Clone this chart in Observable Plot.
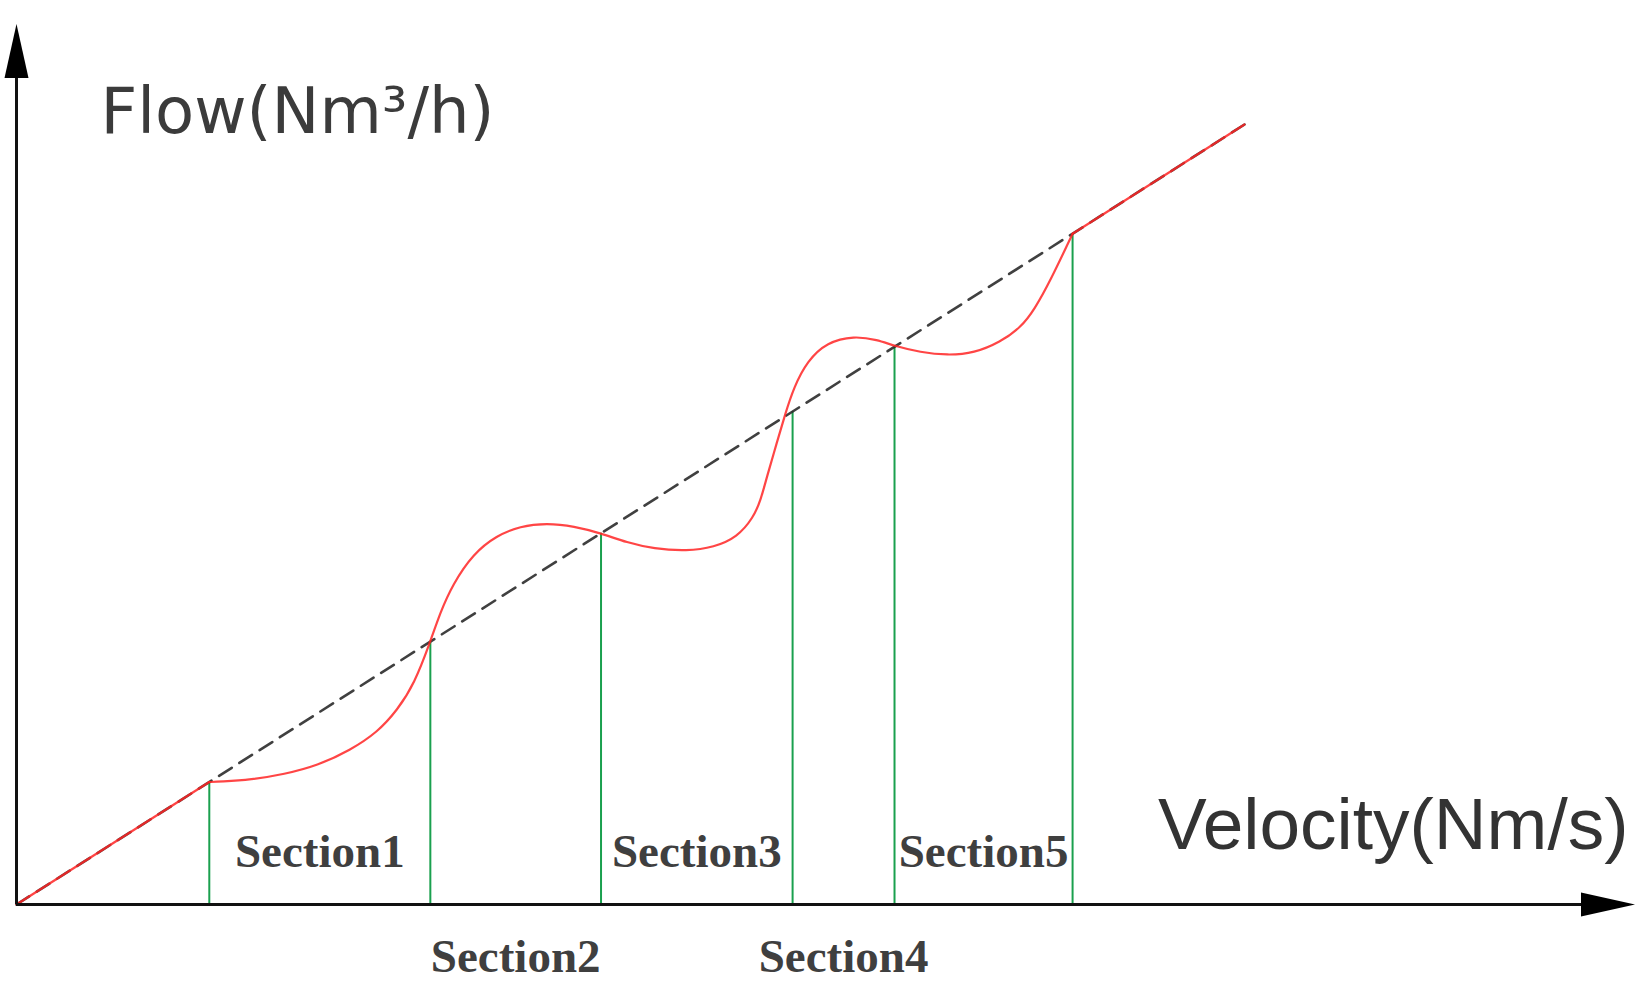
<!DOCTYPE html>
<html>
<head>
<meta charset="utf-8">
<script src="https://cdn.jsdelivr.net/npm/d3@7"></script>
<script src="https://cdn.jsdelivr.net/npm/@observablehq/plot@0.6"></script>
<style>
  html, body { margin: 0; padding: 0; background: #ffffff; }
  #chart { width: 1650px; height: 981px; }
</style>
</head>
<body>
<div id="chart"></div>
<script>
// ---- data ----
// Actual flow curve (red): velocity / flow pairs, grouped in parts
const velocity = [0, 15.7,
  15.7, 16.6, 19.1, 21.8, 24.5, 27.2, 29.4, 31.0, 32.4, 33.7, 34.5, 35.5, 37.2, 39.1, 41.0, 43.2,
  45.4, 47.6, 49.7, 51.9, 54.6, 56.8, 58.7, 60.0, 60.6, 61.1, 61.9, 62.6, 63.3, 64.4, 66.0, 68.2,
  70.1, 71.5, 73.6, 75.8, 78.0, 80.1, 81.8, 82.9, 84.2, 86.0,
  86.0, 100];
const flow = [0, 15.7,
  15.7, 15.75, 16.0, 16.7, 17.8, 19.8, 22.1, 24.9, 28.3, 33.7, 37.4, 41.0, 45.0, 47.3, 48.5, 48.9,
  48.5, 47.6, 46.4, 45.6, 45.3, 45.8, 47.1, 49.6, 51.8, 54.8, 59.1, 62.9, 66.3, 69.7, 72.1, 72.9,
  72.4, 71.6, 70.8, 70.4, 70.7, 72.1, 74.0, 76.3, 80.0, 86.0,
  86.0, 100];
const part = [
  "a", "a",
  "b","b","b","b","b","b","b","b","b","b","b","b","b","b","b","b",
  "b","b","b","b","b","b","b","b","b","b","b","b","b","b","b","b",
  "b","b","b","b","b","b","b","b","b","b",
  "c", "c"];

// Ideal (linear) relation, dashed
const idealVelocity = [0, 100];
const idealFlow = [0, 100];

// Section boundaries (velocity) and names
const boundaries = [15.7, 33.7, 47.6, 63.2, 71.5, 86.0];
const sectionNames = ["Section1", "Section2", "Section3", "Section4", "Section5"];
const sectionRow = ["above", "below", "above", "below", "above"];

// Axis titles and axis extents (arrow tips)
const yTitle = "Flow(Nm³/h)";
const xTitle = "Velocity(Nm/s)";
const axisEndVelocity = 131.8;
const axisEndFlow = 112.9;

// ---- derived tables ----
const curveRows = velocity.map((v, i) => ({v, f: flow[i], part: part[i]}));
const idealRows = idealVelocity.map((v, i) => ({v, f: idealFlow[i]}));
const sectionRows = sectionNames.map((name, i) => ({
  name, row: sectionRow[i], mid: (boundaries[i] + boundaries[i + 1]) / 2
}));
const arrowRows = [
  {v: axisEndVelocity, f: 0, angle: 90},
  {v: 0, f: axisEndFlow, angle: 0}
];

// filled, elongated arrowhead with its tip at the anchor point
const arrowHead = {
  draw(ctx) {
    ctx.moveTo(0, 0);
    ctx.lineTo(-12, 54);
    ctx.lineTo(12, 54);
    ctx.closePath();
  }
};

const RED = "#ff2424";
const GREEN = "#1aa04e";
const LABEL = "#3f3f3f";

const chart = Plot.plot({
  width: 1650,
  height: 981,
  marginLeft: 16,
  marginRight: 406,
  marginTop: 124,
  marginBottom: 77,
  x: {domain: [0, 100], axis: null},
  y: {domain: [0, 100], axis: null},
  style: {background: "#ffffff", overflow: "visible"},
  marks: [
    // section boundary verticals
    Plot.ruleX(boundaries, {x: d => d, y1: 0, y2: d => d, stroke: GREEN, strokeWidth: 2}),
    // ideal dashed line
    Plot.line(idealRows, {x: "v", y: "f", stroke: "#2b2b2b", strokeWidth: 2.6, strokeDasharray: "15,9", strokeOpacity: 0.9}),
    // actual curve
    Plot.line(curveRows, {x: "v", y: "f", z: "part", curve: "basis", stroke: RED, strokeWidth: 2.2, strokeOpacity: 0.85}),
    // axes
    Plot.ruleY([0], {x1: 0, x2: axisEndVelocity - 2, stroke: "#111", strokeWidth: 3}),
    Plot.ruleX([0], {y1: 0, y2: axisEndFlow - 2, stroke: "#111", strokeWidth: 3}),
    Plot.dot(arrowRows, {x: "v", y: "f", rotate: "angle", symbol: arrowHead, fill: "#000", stroke: "none"}),
    // section labels
    Plot.text(sectionRows, {
      filter: d => d.row === "above", x: "mid", y: 0, text: "name",
      lineAnchor: "bottom", dy: -38, fontSize: 47, fontWeight: "bold",
      fontFamily: "Liberation Serif, serif", fill: LABEL
    }),
    Plot.text(sectionRows, {
      filter: d => d.row === "below", x: "mid", y: 0, text: "name",
      lineAnchor: "bottom", dy: 67, fontSize: 47, fontWeight: "bold",
      fontFamily: "Liberation Serif, serif", fill: LABEL
    }),
    // axis titles
    Plot.text([yTitle], {
      frameAnchor: "top-left", text: d => d, textAnchor: "start", lineAnchor: "bottom",
      dx: 84, dy: 8, fontSize: 64, fontFamily: "DejaVu Sans, sans-serif", fill: "#3b3b3b"
    }),
    Plot.text([xTitle], {
      frameAnchor: "bottom-right", text: d => d, textAnchor: "end", lineAnchor: "bottom",
      dx: 384, dy: -56, fontSize: 73, fontFamily: "Liberation Sans, Arial, sans-serif", fill: "#333"
    })
  ]
});

document.getElementById("chart").appendChild(chart);
</script>
</body>
</html>
